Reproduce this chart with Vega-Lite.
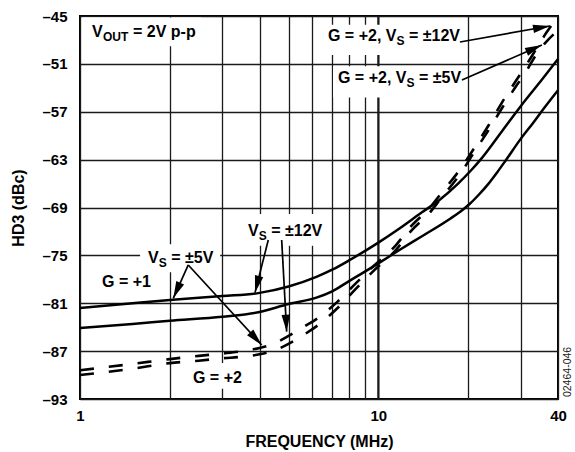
{
  "$schema": "https://vega.github.io/schema/vega-lite/v6.json",
  "autosize": {"type": "none"},
  "padding": {"left": 80, "top": 16, "right": 17, "bottom": 53},
  "width": 478,
  "height": 383,
  "background": "#ffffff",
  "config": {
    "font": "Liberation Sans",
    "view": {"stroke": "#000000", "strokeWidth": 2},
    "axis": {"labelColor": "#000000", "titleColor": "#000000", "gridColor": "#1a1a1a", "gridOpacity": 1}
  },
  "datasets": {
    "curves": [
      {"s": "S1", "f": 1, "v": -81.6}, {"s": "S1", "f": 1.5, "v": -81.0}, {"s": "S1", "f": 2, "v": -80.6}, {"s": "S1", "f": 3, "v": -80.1}, {"s": "S1", "f": 4, "v": -79.7}, {"s": "S1", "f": 5, "v": -78.9}, {"s": "S1", "f": 6.2, "v": -77.7}, {"s": "S1", "f": 7, "v": -76.8}, {"s": "S1", "f": 8, "v": -75.6}, {"s": "S1", "f": 10, "v": -73.4}, {"s": "S1", "f": 11.8, "v": -71.6}, {"s": "S1", "f": 14, "v": -69.6}, {"s": "S1", "f": 16.1, "v": -68.0}, {"s": "S1", "f": 18.5, "v": -66.0}, {"s": "S1", "f": 20.5, "v": -64.3}, {"s": "S1", "f": 22, "v": -63.0}, {"s": "S1", "f": 26, "v": -59.4}, {"s": "S1", "f": 30, "v": -56.3}, {"s": "S1", "f": 35.3, "v": -53.0}, {"s": "S1", "f": 40, "v": -50.4},
      {"s": "S2", "f": 1, "v": -84.1}, {"s": "S2", "f": 1.5, "v": -83.6}, {"s": "S2", "f": 2, "v": -83.2}, {"s": "S2", "f": 3, "v": -82.7}, {"s": "S2", "f": 4, "v": -82.1}, {"s": "S2", "f": 5, "v": -81.1}, {"s": "S2", "f": 6.2, "v": -80.3}, {"s": "S2", "f": 7, "v": -79.5}, {"s": "S2", "f": 8, "v": -78.2}, {"s": "S2", "f": 10, "v": -76.0}, {"s": "S2", "f": 11.8, "v": -74.3}, {"s": "S2", "f": 14, "v": -72.6}, {"s": "S2", "f": 17.4, "v": -70.4}, {"s": "S2", "f": 19, "v": -69.4}, {"s": "S2", "f": 20.3, "v": -68.5}, {"s": "S2", "f": 21.7, "v": -67.4}, {"s": "S2", "f": 23.3, "v": -66.1}, {"s": "S2", "f": 25, "v": -64.6}, {"s": "S2", "f": 26.6, "v": -63.2}, {"s": "S2", "f": 30, "v": -60.4}, {"s": "S2", "f": 33, "v": -58.4}, {"s": "S2", "f": 36, "v": -56.5}, {"s": "S2", "f": 40, "v": -54.3},
      {"s": "D1", "f": 1, "v": -89.4}, {"s": "D1", "f": 1.5, "v": -88.6}, {"s": "D1", "f": 2, "v": -88.0}, {"s": "D1", "f": 2.5, "v": -87.6}, {"s": "D1", "f": 3, "v": -87.3}, {"s": "D1", "f": 3.5, "v": -87.0}, {"s": "D1", "f": 4, "v": -86.6}, {"s": "D1", "f": 4.5, "v": -86.0}, {"s": "D1", "f": 5, "v": -85.1}, {"s": "D1", "f": 5.6, "v": -84.0}, {"s": "D1", "f": 6.3, "v": -82.8}, {"s": "D1", "f": 7.3, "v": -80.8}, {"s": "D1", "f": 8.4, "v": -78.5}, {"s": "D1", "f": 9.6, "v": -76.4}, {"s": "D1", "f": 11.4, "v": -73.8}, {"s": "D1", "f": 12.9, "v": -71.3}, {"s": "D1", "f": 14.9, "v": -69.0}, {"s": "D1", "f": 16.1, "v": -67.4}, {"s": "D1", "f": 18.8, "v": -64.2}, {"s": "D1", "f": 21, "v": -61.5}, {"s": "D1", "f": 23.5, "v": -58.6}, {"s": "D1", "f": 26.1, "v": -55.7}, {"s": "D1", "f": 28.7, "v": -53.3}, {"s": "D1", "f": 31, "v": -51.4}, {"s": "D1", "f": 33.6, "v": -49.3}, {"s": "D1", "f": 36.4, "v": -47.2}, {"s": "D1", "f": 40, "v": -45.1},
      {"s": "D2", "f": 1, "v": -90.0}, {"s": "D2", "f": 1.5, "v": -89.2}, {"s": "D2", "f": 2, "v": -88.5}, {"s": "D2", "f": 2.5, "v": -88.2}, {"s": "D2", "f": 3, "v": -87.9}, {"s": "D2", "f": 3.5, "v": -87.7}, {"s": "D2", "f": 4, "v": -87.4}, {"s": "D2", "f": 4.5, "v": -86.9}, {"s": "D2", "f": 5, "v": -86.1}, {"s": "D2", "f": 5.6, "v": -85.0}, {"s": "D2", "f": 6.3, "v": -83.7}, {"s": "D2", "f": 7.3, "v": -81.6}, {"s": "D2", "f": 8.4, "v": -79.2}, {"s": "D2", "f": 9.6, "v": -77.0}, {"s": "D2", "f": 11.4, "v": -74.4}, {"s": "D2", "f": 12.9, "v": -71.9}, {"s": "D2", "f": 14.9, "v": -69.6}, {"s": "D2", "f": 16.1, "v": -68.0}, {"s": "D2", "f": 18.8, "v": -64.8}, {"s": "D2", "f": 21, "v": -62.0}, {"s": "D2", "f": 23.5, "v": -59.2}, {"s": "D2", "f": 26.1, "v": -56.4}, {"s": "D2", "f": 28.7, "v": -54.0}, {"s": "D2", "f": 31, "v": -52.2}, {"s": "D2", "f": 33.6, "v": -50.0}, {"s": "D2", "f": 36.4, "v": -48.3}, {"s": "D2", "f": 40, "v": -46.8}
    ],
    "boxes": [
      {"f": 1.02, "f2": 2.55, "v": -45.2, "v2": -48.8},
      {"f": 6.57, "f2": 19.4, "v": -46.1, "v2": -49.9},
      {"f": 7.05, "f2": 19.7, "v": -51.3, "v2": -55.2},
      {"f": 3.52, "f2": 6.73, "v": -69.8, "v2": -73.8},
      {"f": 1.59, "f2": 2.95, "v": -73.6, "v2": -77.1},
      {"f": 2.3, "f2": 3.66, "v": -88.5, "v2": -91.7}
    ],
    "arrows": [
      {"id": "a1", "f": 2.306, "v": -76.2, "f2": 2.054, "v2": -80.38},
      {"id": "a2", "f": 2.306, "v": -76.2, "f2": 4.064, "v2": -86.23},
      {"id": "a3", "f": 4.276, "v": -73.07, "f2": 3.859, "v2": -79.67},
      {"id": "a4", "f": 4.742, "v": -73.07, "f2": 4.928, "v2": -84.56},
      {"id": "a5", "f": 18.77, "v": -48.26, "f2": 37.6, "v2": -46.25},
      {"id": "a6", "f": 19.06, "v": -53.02, "f2": 35.34, "v2": -48.63}
    ],
    "heads": [
      {"id": "a1", "f": 2.054, "v": -80.38},
      {"id": "a2", "f": 4.064, "v": -86.23},
      {"id": "a3", "f": 3.859, "v": -79.67},
      {"id": "a4", "f": 4.928, "v": -84.56},
      {"id": "a5", "f": 37.6, "v": -46.25},
      {"id": "a6", "f": 35.34, "v": -48.63}
    ],
    "tenline": [{"f": 10, "v": -93, "v2": -45}],
    "main": [
      {"t": "V", "f": 1.097, "v": -47.63},
      {"t": "= 2V p-p", "f": 1.505, "v": -47.63},
      {"t": "G = +2, V", "f": 6.778, "v": -48.13},
      {"t": "= ±12V", "f": 12.665, "v": -48.13},
      {"t": "G = +2, V", "f": 7.322, "v": -53.4},
      {"t": "= ±5V", "f": 13.679, "v": -53.4},
      {"t": "V", "f": 3.656, "v": -72.57},
      {"t": "= ±12V", "f": 4.373, "v": -72.57},
      {"t": "V", "f": 1.69, "v": -75.96},
      {"t": "= ±5V", "f": 2.021, "v": -75.96},
      {"t": "G = +1", "f": 1.185, "v": -78.96},
      {"t": "G = +2", "f": 2.391, "v": -91.0}
    ],
    "sub": [
      {"t": "OUT", "f": 1.194, "v": -47.63},
      {"t": "S", "f": 11.5, "v": -48.13},
      {"t": "S", "f": 12.423, "v": -53.4},
      {"t": "S", "f": 3.971, "v": -72.57},
      {"t": "S", "f": 1.836, "v": -75.96}
    ],
    "fig": [
      {"t": "02464-046", "f": 43.19, "v": -89.61}
    ]
  },
  "encoding": {
    "x": {
      "field": "f", "type": "quantitative",
      "scale": {"type": "log", "domain": [1, 40], "nice": false},
      "title": "FREQUENCY (MHz)",
      "axis": {
        "values": [1, 2, 3, 4, 5, 6, 7, 8, 9, 10, 20, 30, 40],
        "labelExpr": "datum.value == 1 || datum.value == 10 || datum.value == 40 ? format(datum.value, 'd') : ''",
        "ticks": false, "domain": false, "grid": true, "gridWidth": 1.3,
        "labelPadding": 9, "labelFontSize": 15, "labelFontWeight": "bold", "labelFlush": false, "labelOverlap": false, "labelBound": false,
        "titleFontSize": 16, "titleFontWeight": "bold", "titlePadding": 10
      }
    },
    "y": {
      "field": "v", "type": "quantitative",
      "scale": {"domain": [-93, -45], "nice": false, "zero": false},
      "title": "HD3 (dBc)",
      "axis": {
        "values": [-93, -87, -81, -75, -69, -63, -57, -51, -45],
        "labelExpr": "'–' + format(abs(datum.value), 'd')",
        "ticks": false, "domain": false, "grid": true, "gridWidth": 1.3,
        "labelPadding": 13, "labelFontSize": 15, "labelFontWeight": "bold", "labelOverlap": false, "labelBound": false,
        "titleFontSize": 16, "titleFontWeight": "bold", "titlePadding": 15
      }
    }
  },
  "layer": [
    {
      "data": {"name": "tenline"},
      "mark": {"type": "rule", "color": "#1a1a1a", "strokeWidth": 2.2},
      "encoding": {"y2": {"field": "v2"}}
    },
    {
      "data": {"name": "boxes"},
      "mark": {"type": "rect", "fill": "#ffffff", "stroke": null},
      "encoding": {"x2": {"field": "f2"}, "y2": {"field": "v2"}}
    },
    {
      "data": {"name": "curves"},
      "transform": [{"filter": "datum.s == 'S1' || datum.s == 'S2'"}],
      "mark": {"type": "line", "color": "#000000", "strokeWidth": 2.5, "interpolate": "monotone"},
      "encoding": {"detail": {"field": "s"}}
    },
    {
      "data": {"name": "curves"},
      "transform": [{"filter": "datum.s == 'D1' || datum.s == 'D2'"}],
      "mark": {"type": "line", "color": "#000000", "strokeWidth": 2.6, "strokeDash": [14, 15], "interpolate": "monotone"},
      "encoding": {"detail": {"field": "s"}}
    },
    {
      "data": {"name": "arrows"},
      "mark": {"type": "rule", "color": "#000000", "strokeWidth": 1.7},
      "encoding": {"x2": {"field": "f2"}, "y2": {"field": "v2"}}
    },
    {
      "data": {"name": "heads"},
      "transform": [{"filter": "datum.id == 'a1'"}],
      "mark": {"type": "point", "shape": "M0,0L-0.5,2L0.5,2Z", "filled": true, "color": "#000000", "opacity": 1, "size": 289, "angle": 204}
    },
    {
      "data": {"name": "heads"},
      "transform": [{"filter": "datum.id == 'a2'"}],
      "mark": {"type": "point", "shape": "M0,0L-0.5,2L0.5,2Z", "filled": true, "color": "#000000", "opacity": 1, "size": 289, "angle": 137.5}
    },
    {
      "data": {"name": "heads"},
      "transform": [{"filter": "datum.id == 'a3'"}],
      "mark": {"type": "point", "shape": "M0,0L-0.5,2L0.5,2Z", "filled": true, "color": "#000000", "opacity": 1, "size": 289, "angle": 194}
    },
    {
      "data": {"name": "heads"},
      "transform": [{"filter": "datum.id == 'a4'"}],
      "mark": {"type": "point", "shape": "M0,0L-0.5,2L0.5,2Z", "filled": true, "color": "#000000", "opacity": 1, "size": 289, "angle": 177}
    },
    {
      "data": {"name": "heads"},
      "transform": [{"filter": "datum.id == 'a5'"}],
      "mark": {"type": "point", "shape": "M0,0L-0.5,2L0.5,2Z", "filled": true, "color": "#000000", "opacity": 1, "size": 289, "angle": 80}
    },
    {
      "data": {"name": "heads"},
      "transform": [{"filter": "datum.id == 'a6'"}],
      "mark": {"type": "point", "shape": "M0,0L-0.5,2L0.5,2Z", "filled": true, "color": "#000000", "opacity": 1, "size": 289, "angle": 66.4}
    },
    {
      "data": {"name": "main"},
      "mark": {"type": "text", "align": "left", "baseline": "alphabetic", "fontSize": 16, "fontWeight": "bold", "color": "#000000"},
      "encoding": {"text": {"field": "t"}}
    },
    {
      "data": {"name": "sub"},
      "mark": {"type": "text", "align": "left", "baseline": "alphabetic", "fontSize": 12, "fontWeight": "bold", "color": "#000000", "dy": 4},
      "encoding": {"text": {"field": "t"}}
    },
    {
      "data": {"name": "fig"},
      "mark": {"type": "text", "align": "center", "baseline": "middle", "fontSize": 10.5, "fontWeight": "normal", "color": "#222222", "angle": 270},
      "encoding": {"text": {"field": "t"}}
    }
  ]
}
